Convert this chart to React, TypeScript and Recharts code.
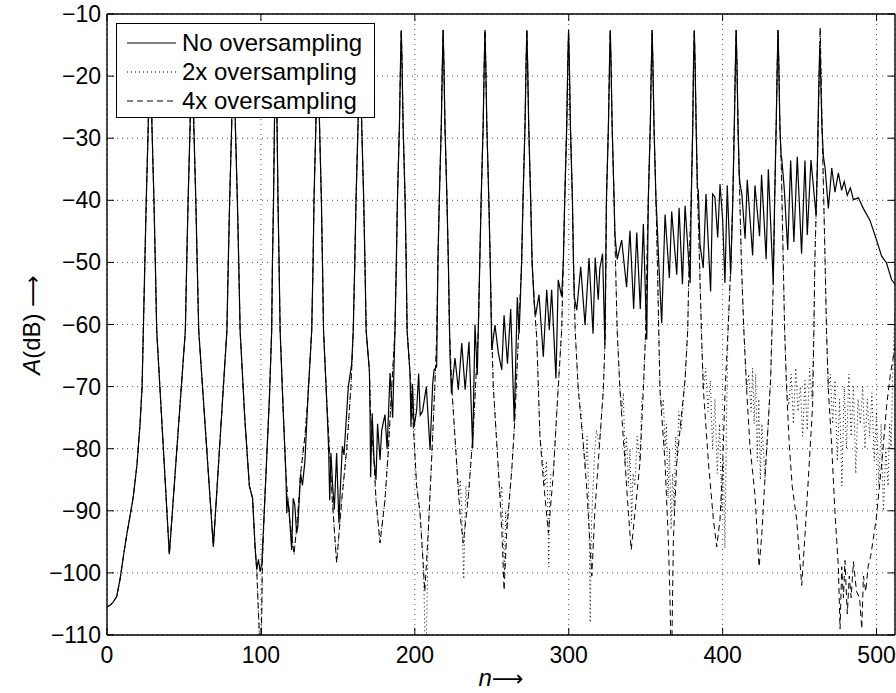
import React from 'react';
import { LineChart, Line, XAxis, YAxis, CartesianGrid, ReferenceLine, Legend } from 'recharts';

type Pt = [number, number];

const xTicks = [0, 100, 200, 300, 400, 500];
const yTicks = [-110, -100, -90, -80, -70, -60, -50, -40, -30, -20, -10];

// n = 0 .. 97: all three curves lie on top of each other
const sharedStart: Pt[] = [
  [0, -105.5], [2, -105.2], [4, -104.7], [6.3, -103.8], [8.5, -101], [10.6, -97.4], [13, -93.6], [15, -90.8],
  [17.1, -87.7], [19.5, -82.5], [21.5, -75.9], [22.8, -70], [23.6, -61],
  [24.6, -50], [25.5, -40], [26.8, -28], [27.5, -18], [28, -12.6], [28.5, -18], [29.2, -28], [30.5, -40], [31.4, -50], [32.3, -61],
  [40.5, -97], [50.9, -61],
  [51.8, -50], [52.7, -40], [54, -28], [54.7, -18], [55.2, -12.6], [55.7, -18], [56.4, -28], [57.7, -40], [58.6, -50], [59.6, -61],
  [69.1, -95.8], [77.9, -61],
  [78.8, -50], [79.7, -40], [81, -28], [81.7, -18], [82.2, -12.6], [82.7, -18], [83.4, -28], [84.7, -40], [85.6, -50], [86.5, -61],
  [89.5, -75], [92.5, -86], [94.6, -88], [96.2, -95.8], [97.3, -99.5],
];

const noOversamplingRest: Pt[] = [
  [98.4, -97.8], [99.5, -99.8], [100.6, -98.5], [102.2, -90], [103.8, -81.3], [105.5, -72], [107, -61],
  [107.5, -50], [108.2, -40], [108.8, -28], [109.2, -18], [109.6, -12.6], [110, -18], [110.5, -28], [111.1, -40], [111.8, -50], [112.5, -61],
  [114.5, -74], [116.3, -84.5], [116.8, -90.4], [117.3, -88.3], [118.2, -89.5], [120, -96.3], [121, -88], [122, -89], [123.2, -93.6],
  [124, -92.5], [125.8, -84], [127, -85.9], [128.6, -82], [130.5, -72], [133, -61],
  [133.9, -50], [134.5, -40], [135.7, -28], [136.4, -18], [136.9, -12.6], [137.4, -18], [138.1, -28], [139.3, -40], [140, -50], [140.7, -61],
  [142.7, -72], [144, -80], [144.7, -88.3], [145.5, -80.7], [146.5, -85.5], [147.7, -89.8], [149.2, -80.7], [150.7, -92], [151.5, -87],
  [152.9, -79.6], [154, -81], [156.8, -70], [159, -66.3], [160, -61],
  [161, -50], [161.8, -40], [163.1, -28], [163.8, -18], [164.3, -12.6], [164.8, -18], [165.5, -28], [166.8, -40], [167.6, -50], [168.4, -61],
  [170.5, -67.5], [170.9, -74.3], [171.3, -84.6], [172.3, -74.3], [173.5, -81.8], [174.8, -85], [175.8, -76], [177.4, -81.8], [178.5, -77],
  [180.6, -74.5], [182, -80], [183.9, -67.8], [185.6, -75], [187.1, -61],
  [188, -50], [188.7, -40], [190, -28], [190.7, -18], [191.2, -12.6], [191.7, -18], [192.4, -28], [193.7, -40], [194.4, -50], [195, -61],
  [196.9, -67.9], [197.5, -76.5], [198.5, -69.6], [199.5, -76.5], [201.2, -73.8], [202.5, -67.9], [203.5, -74.6], [205, -74], [207.5, -70],
  [209.9, -80.2], [211.6, -69.6], [212.5, -67.3], [214.2, -66.8],
  [215, -50], [215.9, -40], [217.2, -28], [217.9, -18], [218.4, -12.6], [218.9, -18], [219.6, -28], [220.9, -40], [221.8, -50], [222.9, -65.2],
  [223.8, -71.1], [226.1, -65.4], [228.3, -70.5], [230.5, -63], [232.7, -70.5], [235.2, -62.8], [237.6, -79.9], [239.1, -60], [240.6, -68.1], [242.2, -50],
  [243.1, -40], [244.4, -28], [245.1, -18], [245.6, -12.6], [246.1, -18], [246.8, -28], [248.1, -40], [249, -50],
  [250, -64.1], [252.1, -60.1], [254.3, -64.6], [256.5, -67.3], [258, -58.5], [260.2, -66.3], [262.3, -57.5], [264.6, -75.7], [266.6, -55.6],
  [267.8, -61.5], [269.4, -50],
  [270.3, -40], [271.6, -28], [272.3, -18], [272.8, -12.6], [273.3, -18], [274, -28], [275.3, -40], [276.2, -50],
  [277.6, -56.7], [278.5, -58.5], [280.7, -55.2], [283.5, -65.2], [285.7, -54.4], [287.4, -60.9], [288.9, -54.4], [291.7, -68.7], [293.2, -52.8],
  [295.4, -55.5], [296.5, -50],
  [297.4, -40], [298.7, -28], [299.4, -18], [299.9, -12.6], [300.4, -18], [301.1, -28], [302.4, -40], [303.1, -50],
  [303.6, -55.5], [305.2, -57.7], [307.8, -50.7], [310.6, -60.1], [313.2, -49.3], [315.8, -61.5], [317.2, -49.2], [319.2, -56], [320.2, -51],
  [322, -48.6], [323.5, -63.3],
  [324.5, -40], [325.8, -28], [326.5, -18], [327, -12.6], [327.5, -18], [328.2, -28], [329.5, -40],
  [330, -45.5], [331.5, -49.5], [334.4, -46.4], [337.6, -54], [339.8, -44.9], [342.2, -57.5], [344.2, -45.2], [346.5, -57.5], [348.5, -43.8], [350.7, -62.4],
  [351.7, -40], [353, -28], [353.7, -18], [354.2, -12.6], [354.7, -18], [355.4, -28], [356.7, -40],
  [357.2, -42.3], [358.5, -50], [360.4, -59.8], [362.6, -42.3], [365.4, -52.5], [366.9, -41.8], [370.2, -52], [371.7, -41.2], [373.9, -53.5],
  [375.6, -40.9], [378.9, -53.3],
  [379.6, -40], [380.6, -28], [381.1, -18], [381.6, -12.6], [382.1, -18], [382.8, -28], [383.6, -38],
  [384.2, -38.4], [385.3, -47.1], [387.4, -50.9], [389.2, -39], [390.7, -47.1], [392.2, -54.7], [393.5, -39], [395, -39.5], [396.8, -46],
  [398.3, -37.4], [400, -43], [401.5, -53.3], [403, -37.6], [405.2, -52],
  [406.6, -40], [407.6, -28], [408.3, -18], [408.8, -12.6], [409.3, -18], [410, -28], [410.8, -36],
  [411.3, -37.3], [412.5, -39], [414.6, -46.2], [416, -36.7], [419.5, -48.9], [421, -37.6], [424, -45.8], [425.3, -35.9], [428.3, -49.5],
  [429.7, -35], [432.9, -53.4],
  [433.8, -40], [434.8, -28], [435.5, -18], [436, -12.6], [436.5, -18], [437.2, -28], [438, -33],
  [438.4, -33.2], [440, -38], [442.3, -48], [444.2, -33.6], [446.3, -46.7], [448.5, -33], [451.3, -48.6], [453.5, -33.6], [455, -45.6],
  [457.4, -33.5], [460.7, -42.4], [461.5, -35],
  [462.2, -25], [462.8, -18], [463.2, -15], [463.7, -20], [464.5, -28], [465.5, -33],
  [466.5, -34.6], [468.7, -41.3], [470.9, -34.8], [473, -38.7], [475.2, -35.6], [477.3, -38.4], [479, -37], [481, -39.2], [483, -38],
  [485, -39.9], [488.2, -39.6], [491.4, -41.3], [495.7, -43.2], [500, -46.4], [503.3, -49], [506.5, -50.1], [509.8, -52.8], [512, -53.5],
];

// n = 97 .. 195: 2x and 4x coincide
const oversampledEarly: Pt[] = [
  [99.3, -112], [100.2, -112], [101, -98], [102.2, -90], [103.8, -81.3], [105.5, -72], [107, -61],
  [107.5, -50], [108.2, -40], [108.8, -28], [109.2, -18], [109.6, -12.6], [110, -18], [110.5, -28], [111.1, -40], [111.8, -50], [112.5, -61],
  [114.5, -74], [116.3, -84.5], [118.5, -91], [121.5, -97], [123.5, -92], [125.8, -84], [128.6, -78], [130.5, -72], [133, -61],
  [133.9, -50], [134.5, -40], [135.7, -28], [136.4, -18], [136.9, -12.6], [137.4, -18], [138.1, -28], [139.3, -40], [140, -50], [140.7, -61],
  [142.7, -72], [144.7, -80.7], [146.4, -88.3], [149.2, -98.4], [152.5, -88.3], [155.8, -80], [158.5, -70], [160, -61],
  [161, -50], [161.8, -40], [163.1, -28], [163.8, -18], [164.3, -12.6], [164.8, -18], [165.5, -28], [166.8, -40], [167.6, -50], [168.4, -61],
  [170.5, -67.5], [171.3, -75], [173.5, -82], [174.8, -88.3], [177.4, -95.2], [180.6, -88.3], [182.8, -80.3], [185, -70], [187.1, -61],
  [188, -50], [188.7, -40], [190, -28], [190.7, -18], [191.2, -12.6], [191.7, -18], [192.4, -28], [193.7, -40], [194.4, -50], [195, -61],
];

const fourXRest: Pt[] = [
  [196.9, -67.9], [198.5, -74], [201.2, -86], [203.4, -90.4], [206.5, -103], [208.8, -93.1], [211, -81.3], [213, -70], [214.2, -62],
  [215, -50], [215.9, -40], [217.2, -28], [217.9, -18], [218.4, -12.6], [218.9, -18], [219.6, -28], [220.9, -40], [221.8, -50],
  [222.5, -61], [224, -70], [227.2, -82.4], [229.4, -90.6], [231.5, -95.2], [234.8, -87.7], [238, -77], [241.3, -61], [242.2, -50],
  [243.1, -40], [244.4, -28], [245.1, -18], [245.6, -12.6], [246.1, -18], [246.8, -28], [248.1, -40], [249, -50],
  [249.9, -61], [251, -70], [254.3, -83.4], [256.5, -93], [258, -102.8], [259.8, -93], [263, -83.4], [265, -75.3], [267.5, -61], [269.4, -50],
  [270.3, -40], [271.6, -28], [272.3, -18], [272.8, -12.6], [273.3, -18], [274, -28], [275.3, -40], [276.2, -50],
  [278, -58], [279.2, -62], [281.3, -78], [283.5, -85], [286.8, -93.6], [290, -84], [292.2, -74.3], [295.4, -61], [296.5, -50],
  [297.4, -40], [298.7, -28], [299.4, -18], [299.9, -12.6], [300.4, -18], [301.1, -28], [302.4, -40], [303.1, -50],
  [304.2, -61], [306.2, -70.5], [309.6, -79.7], [311.8, -86.7], [315, -100.5], [317, -90], [319.9, -79.7], [322.5, -70.5], [323.8, -61],
  [324.5, -40], [325.8, -28], [326.5, -18], [327, -12.6], [327.5, -18], [328.2, -28], [329.5, -40],
  [330.4, -50], [331.5, -61], [333.3, -70.5], [336.6, -82.3], [338.8, -90.4], [340.6, -96.3], [343, -90.4], [346.3, -82.3], [348.5, -70.5],
  [350, -61], [350.8, -50],
  [351.7, -40], [353, -28], [353.7, -18], [354.2, -12.6], [354.7, -18], [355.4, -28], [356.7, -40],
  [357.6, -50], [358.5, -61], [359.3, -70.5], [362.6, -82.3], [364.7, -94.6], [365.7, -103], [366.4, -112], [367, -112], [368, -94.6],
  [370.2, -82.3], [373.4, -74.2], [375.6, -68.9], [377.3, -61], [378.2, -50],
  [379.6, -40], [380.6, -28], [381.1, -18], [381.6, -12.6], [382.1, -18], [382.8, -28], [383.6, -38],
  [385, -50], [386.2, -61], [387.5, -70.5], [390.8, -82.3], [394, -91.4], [396.2, -95.8], [398.3, -91.4], [400.1, -82.3], [401.6, -70.5],
  [403.5, -61], [405.4, -50],
  [406.6, -40], [407.6, -28], [408.3, -18], [408.8, -12.6], [409.3, -18], [410, -28], [410.8, -36],
  [412.2, -50], [413.8, -61], [415.6, -70.5], [417.8, -79.7], [421, -87.4], [423.7, -99], [425.4, -94], [427.5, -84.8], [429.7, -75.6],
  [431.2, -68.7], [432.9, -53.4],
  [433.8, -40], [434.8, -28], [435.5, -18], [436, -12.6], [436.5, -18], [437.2, -28], [438, -33],
  [439.4, -50], [440.3, -61], [441.6, -70.5], [443.4, -79.7], [445.2, -86], [448.1, -91.4], [451.4, -102], [453.5, -94], [455.7, -84.8],
  [458.5, -73], [459.3, -61], [459.9, -50],
  [461.5, -35], [462.6, -22], [463.4, -12.2], [464, -20], [464.6, -28], [465.7, -40], [466.6, -50], [467.5, -61],
  [468.7, -70.5], [470.9, -79.7], [473, -90.4], [475.2, -99], [476.3, -109], [477.4, -99], [478.5, -104], [479.5, -98], [481, -106.6],
  [482.3, -100.5], [483.5, -104], [485, -98.2], [487, -103], [489, -104], [490.4, -109], [491.5, -100.5], [493, -103], [494.5, -99],
  [496.2, -97.3], [499.7, -91.5], [503.4, -82.3], [506.6, -73], [509, -68], [512, -63.6],
];

const twoXRest: Pt[] = [
  [196.9, -67.9], [198.5, -74], [201.2, -86], [203.4, -90.4], [205.5, -98], [206.8, -112], [207.4, -112], [208.8, -93.1], [211, -81.3],
  [213, -70], [214.2, -62],
  [215, -50], [215.9, -40], [217.2, -28], [217.9, -18], [218.4, -12.6], [218.9, -18], [219.6, -28], [220.9, -40], [221.8, -50],
  [222.5, -61], [224, -70], [227.2, -82.4], [228.5, -88], [229.5, -85], [230.5, -90], [231.8, -101], [232.5, -92], [233.2, -86], [234, -89],
  [234.8, -87.7], [238, -77], [241.3, -61], [242.2, -50],
  [243.1, -40], [244.4, -28], [245.1, -18], [245.6, -12.6], [246.1, -18], [246.8, -28], [248.1, -40], [249, -50],
  [249.9, -61], [251, -70], [254.3, -83.4], [255.5, -88], [256.5, -86], [257.5, -95], [258.3, -100], [259, -90], [259.8, -93], [263, -83.4],
  [265, -75.3], [267.5, -61], [269.4, -50],
  [270.3, -40], [271.6, -28], [272.3, -18], [272.8, -12.6], [273.3, -18], [274, -28], [275.3, -40], [276.2, -50],
  [278, -58], [279.2, -62], [281.3, -78], [283.5, -83], [284.5, -86], [285.5, -82], [286.5, -90], [287, -99], [287.6, -88], [288.5, -84],
  [290, -84], [292.2, -74.3], [295.4, -61], [296.5, -50],
  [297.4, -40], [298.7, -28], [299.4, -18], [299.9, -12.6], [300.4, -18], [301.1, -28], [302.4, -40], [303.1, -50],
  [304.2, -61], [306.2, -70.5], [308, -74], [309.6, -79.7], [311, -83], [312, -78], [313, -88], [314, -108], [314.8, -92], [316, -85],
  [317, -80], [318, -77], [319.9, -79.7], [322.5, -70.5], [323.8, -61],
  [324.5, -40], [325.8, -28], [326.5, -18], [327, -12.6], [327.5, -18], [328.2, -28], [329.5, -40],
  [330.4, -50], [331.5, -61], [333.3, -70.5], [334.5, -74], [335.5, -71], [336.6, -82.3], [337.5, -78], [338.8, -86], [339.8, -80],
  [340.8, -92], [341.8, -84], [343, -86], [344.5, -78], [346.3, -82], [347.5, -72], [348.5, -70.5], [350, -61], [350.8, -50],
  [351.7, -40], [353, -28], [353.7, -18], [354.2, -12.6], [354.7, -18], [355.4, -28], [356.7, -40],
  [357.6, -50], [358.5, -61], [359.3, -70.5], [360.5, -74], [361.5, -72], [362.6, -80], [363.5, -76], [364.5, -88], [365.5, -80],
  [366.5, -93], [367.5, -84], [368.5, -90], [369.5, -78], [370.5, -82], [371.5, -74], [373, -77], [375.6, -68.9], [377.3, -61], [378.2, -50],
  [379.6, -40], [380.6, -28], [381.1, -18], [381.6, -12.6], [382.1, -18], [382.8, -28], [383.6, -38],
  [385, -50], [386.2, -61], [387.5, -70.5], [389, -67], [390.5, -74], [392, -69], [393.5, -80], [395, -72], [396.5, -84], [398, -76],
  [399.5, -90], [400.5, -82], [401.5, -96], [402.5, -76], [403.5, -61], [405.4, -50],
  [406.6, -40], [407.6, -28], [408.3, -18], [408.8, -12.6], [409.3, -18], [410, -28], [410.8, -36],
  [412.2, -50], [413.8, -61], [415.6, -70.5], [417, -68], [418.5, -74], [419.5, -67], [420.5, -76], [421.5, -68], [422.5, -82], [423.5, -72],
  [424.5, -85], [425.5, -76], [426.5, -80], [427.5, -84.8], [429.7, -75.6], [431.2, -68.7], [432.9, -53.4],
  [433.8, -40], [434.8, -28], [435.5, -18], [436, -12.6], [436.5, -18], [437.2, -28], [438, -33],
  [439.4, -50], [440.3, -61], [441.6, -70.5], [443, -73], [444.5, -68], [446, -76], [447.5, -67], [449, -74], [450.5, -70], [452, -78],
  [453.5, -69], [455, -77], [456.5, -67], [458, -72], [459.3, -61], [459.9, -50],
  [461.5, -35], [462.6, -22], [463.4, -12.2], [464, -20], [464.6, -28], [465.7, -40], [466.6, -50], [467.5, -61],
  [468.7, -70.5], [470, -68], [471.5, -76], [473, -69], [474.5, -82], [476, -72], [477.5, -86], [479, -70], [480.5, -80], [482, -68],
  [483.5, -78], [485, -70], [486.5, -84], [488, -72], [489.5, -76], [491, -70], [492.5, -80], [494, -72], [495.5, -78], [497, -71],
  [498.5, -82], [500, -74], [501.5, -86], [503, -76], [504.5, -90], [506, -80], [507.5, -86], [508.5, -76], [509.5, -80], [510.5, -68],
  [511.3, -62], [512, -58],
];

const toRows = (pts: Pt[]) => pts.map(([n, db]) => ({ n, db }));

const solidData = toRows([...sharedStart, ...noOversamplingRest]);
const twoXData = toRows([...sharedStart, ...oversampledEarly, ...twoXRest]);
const fourXData = toRows([...sharedStart, ...oversampledEarly, ...fourXRest]);

const series = [
  { name: 'No oversampling', data: solidData, dash: undefined as string | undefined, width: 1.2 },
  { name: '2x oversampling', data: twoXData, dash: '1 3', width: 1 },
  { name: '4x oversampling', data: fourXData, dash: '6 4', width: 1 },
];

const FONT = '"Liberation Sans", Arial, Helvetica, sans-serif';
const ARROW_FONT = '"DejaVu Sans", sans-serif';
const W = 896;
const H = 693;
const PLOT_LEFT = 107;
const PLOT_TOP = 14;
const PLOT_RIGHT = 895;
const PLOT_BOTTOM = 635;
const TICK_LEN = 7;

const fmt = (v: number) => String(v).replace('-', '\u2212');

function XTick(props: any) {
  const { x, payload } = props;
  return (
    <g>
      <line x1={x} x2={x} y1={PLOT_BOTTOM} y2={PLOT_BOTTOM - TICK_LEN} stroke="#000" />
      <line x1={x} x2={x} y1={PLOT_TOP} y2={PLOT_TOP + TICK_LEN} stroke="#000" />
      <text x={x} y={PLOT_BOTTOM + 28} textAnchor="middle" fontSize={23} fontFamily={FONT} fill="#000">
        {fmt(payload.value)}
      </text>
    </g>
  );
}

function YTick(props: any) {
  const { y, payload } = props;
  return (
    <g>
      <line x1={PLOT_LEFT} x2={PLOT_LEFT + TICK_LEN} y1={y} y2={y} stroke="#000" />
      <line x1={PLOT_RIGHT} x2={PLOT_RIGHT - TICK_LEN} y1={y} y2={y} stroke="#000" />
      <text x={PLOT_LEFT - 6} y={y + 8} textAnchor="end" fontSize={23} fontFamily={FONT} fill="#000">
        {fmt(payload.value)}
      </text>
    </g>
  );
}

function LegendBox() {
  return (
    <div
      style={{
        width: 259,
        height: 95,
        boxSizing: 'border-box',
        border: '1.3px solid #000',
        background: '#fff',
        position: 'relative',
        fontFamily: FONT,
        fontSize: 24,
        color: '#000',
      }}
    >
      {series.map((s, i) => (
        <div key={s.name} style={{ position: 'absolute', left: 0, top: 4 + i * 29, height: 29, width: 257 }}>
          <svg width={60} height={29} style={{ position: 'absolute', left: 0, top: 0 }}>
            <line x1={10} x2={59} y1={15} y2={15} stroke="#000" strokeWidth={1} strokeDasharray={s.dash} />
          </svg>
          <span style={{ position: 'absolute', left: 65, top: 0, lineHeight: '29px', whiteSpace: 'nowrap' }}>{s.name}</span>
        </div>
      ))}
    </div>
  );
}

export default function App() {
  return (
    <div style={{ position: 'absolute', left: 0, top: 0, width: W, height: H, background: '#fff', fontFamily: FONT, overflow: 'hidden' }}>
      <LineChart
        width={W}
        height={H}
        margin={{ top: PLOT_TOP, right: W - PLOT_RIGHT, bottom: 0, left: 0 }}
      >
        <CartesianGrid stroke="#333" strokeDasharray="1 4" strokeWidth={0.9} />
        <XAxis
          dataKey="n"
          type="number"
          domain={[0, 512]}
          ticks={xTicks}
          interval={0}
          allowDataOverflow
          height={H - PLOT_BOTTOM}
          tickLine={false}
          tick={<XTick />}
          axisLine={{ stroke: '#000', strokeWidth: 1.4 }}
        />
        <YAxis
          type="number"
          domain={[-110, -10]}
          ticks={yTicks}
          interval={0}
          allowDataOverflow
          width={PLOT_LEFT}
          tickLine={false}
          tick={<YTick />}
          axisLine={{ stroke: '#000', strokeWidth: 1.4 }}
        />
        <ReferenceLine y={-10} stroke="#000" strokeWidth={1.4} />
        <ReferenceLine x={512} stroke="#000" strokeWidth={1.4} />
        {series
          .slice()
          .reverse()
          .map((s) => (
            <Line
              key={s.name}
              name={s.name}
              data={s.data}
              dataKey="db"
              type="linear"
              stroke="#000"
              strokeWidth={s.width}
              strokeDasharray={s.dash}
              dot={false}
              activeDot={false}
              isAnimationActive={false}
            />
          ))}
        <Legend
          layout="vertical"
          align="center"
          verticalAlign="middle"
          content={() => <LegendBox />}
          wrapperStyle={{ position: 'absolute', left: 116, top: 23, width: 259, height: 95 }}
        />
      </LineChart>
      <svg width={W} height={H} style={{ position: 'absolute', left: 0, top: 0, pointerEvents: 'none' }}>
        <text
          transform="translate(40 325) rotate(-90)"
          textAnchor="middle"
          fontSize={24}
          fontFamily={FONT}
          fill="#000"
        >
          <tspan fontStyle="italic">A</tspan>
          <tspan>(dB) </tspan>
          <tspan fontFamily={ARROW_FONT} fontSize={22}>{'\u27F6'}</tspan>
        </text>
        <text x={501} y={686} textAnchor="middle" fontSize={24} fontFamily={FONT} fill="#000">
          <tspan fontStyle="italic">n</tspan>
          <tspan fontFamily={ARROW_FONT} fontSize={22}>{'\u27F6'}</tspan>
        </text>
      </svg>
    </div>
  );
}
